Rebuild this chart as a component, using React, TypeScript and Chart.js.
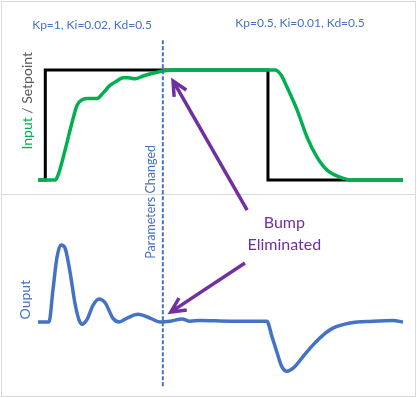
import { useEffect, useRef } from "react";
import { Chart, registerables } from "chart.js";

Chart.register(...registerables);

// ---- data (time in arbitrary units, 0..100) ----
const setpointTime = [0, 2, 2, 63, 63, 100];
const setpointValue = [0, 0, 1, 1, 0, 0];

const inputTime = [0, 4.7, 5.5, 7.4, 9.3, 10.7, 12.1, 13.7, 16.2, 17.8, 19.7, 21.6, 23.3, 24.7, 26.6, 28.8, 31.5, 34.2, 37.5, 63.6, 64.9, 66.6, 68.2, 71.0, 73.7, 76.4, 79.2, 82.7, 86.3, 100];
const inputValue = [0, 0, 0.045, 0.27, 0.52, 0.68, 0.73, 0.74, 0.74, 0.79, 0.86, 0.9, 0.93, 0.93, 0.92, 0.945, 0.97, 0.99, 1, 1, 1, 0.955, 0.845, 0.636, 0.39, 0.21, 0.09, 0.027, 0, 0];

const outputTime = [0, 3.0, 4.1, 5.2, 6.3, 7.4, 8.8, 10.1, 11.2, 12.1, 13.4, 15.1, 16.7, 18.4, 20.5, 22.2, 24.4, 27.4, 30.7, 33.4, 36.2, 39.5, 41.6, 44.4, 52.6, 62.7, 64.1, 65.5, 66.8, 68.2, 69.9, 72.6, 75.3, 78.1, 80.8, 85.5, 91.8, 97.3, 100];
const outputValue = [0, 0, 0.42, 0.84, 1.0, 0.96, 0.64, 0.25, 0.03, -0.03, 0.03, 0.22, 0.3, 0.25, 0.05, 0, 0.05, 0.1, 0.05, 0, 0.01, 0.04, 0.01, 0.02, 0.01, 0.01, -0.19, -0.4, -0.58, -0.64, -0.6, -0.45, -0.3, -0.17, -0.08, -0.013, 0.01, 0.02, 0];

const changeTime = 34.2;
const changeLabel = "Parameters Changed";

const gainLabels = ["Kp=1, Ki=0.02, Kd=0.5", "Kp=0.5, Ki=0.01, Kd=0.5"];
const gainLabelTime = [14.8, 71.8];
const gainLabelLevel = [1.41, 1.43];

const bumpLines = ["Bump", "Eliminated"];
const bumpTime = 67.5;
const bumpLevel = 1.14;

const arrowAxis = ["yIn", "yOut"];
const arrowFromTime = [57.3, 56.7];
const arrowFromLevel = [-0.273, 0.766];
const arrowToTime = [37.0, 36.4];
const arrowToLevel = [0.9, 0.13];

const inputTitle = ["Input", " / Setpoint"];
const outputTitle = "Ouput";

// ---- styles ----
const GREEN = "#00B050";
const BLUE = "#4472C4";
const PURPLE = "#7030A0";
const GRAY = "#595959";
const FRAME = "#d9d9d9";
const FONT = "Lato, 'Open Sans', sans-serif";

const toXY = (xs: number[], ys: number[]) => xs.map((x, i) => ({ x, y: ys[i] }));

const overlayPlugin = {
  id: "overlay",
  beforeDatasetsDraw(chart: any) {
    const { ctx, chartArea } = chart;
    const yIn = chart.scales.yIn;
    ctx.save();
    ctx.strokeStyle = FRAME;
    ctx.lineWidth = 1;
    ctx.strokeRect(chartArea.left + 0.5, chartArea.top + 0.5, chartArea.width - 1, chartArea.height - 1);
    const dy = Math.round(yIn.bottom) + 0.5;
    ctx.beginPath();
    ctx.moveTo(chartArea.left, dy);
    ctx.lineTo(chartArea.right, dy);
    ctx.stroke();
    ctx.restore();
  },
  afterDatasetsDraw(chart: any) {
    const { ctx } = chart;
    const x = chart.scales.x;
    const yIn = chart.scales.yIn;
    const yOut = chart.scales.yOut;
    ctx.save();

    // dashed "parameters changed" line
    const cx = x.getPixelForValue(changeTime);
    ctx.strokeStyle = BLUE;
    ctx.lineWidth = 2;
    ctx.setLineDash([4, 2]);
    ctx.beginPath();
    ctx.moveTo(cx, yIn.getPixelForValue(1.27));
    ctx.lineTo(cx, yOut.getPixelForValue(-0.857));
    ctx.stroke();
    ctx.setLineDash([]);

    // rotated label next to the line
    ctx.save();
    ctx.translate(x.getPixelForValue(31.0), yOut.getPixelForValue(1.56));
    ctx.rotate(-Math.PI / 2);
    ctx.font = `12.5px ${FONT}`;
    ctx.fillStyle = BLUE;
    ctx.textAlign = "center";
    ctx.textBaseline = "middle";
    ctx.fillText(changeLabel, 0, 0);
    ctx.restore();

    // gain labels
    ctx.font = `12px ${FONT}`;
    ctx.fillStyle = BLUE;
    ctx.textAlign = "center";
    ctx.textBaseline = "middle";
    gainLabels.forEach((t, i) => {
      ctx.fillText(t, x.getPixelForValue(gainLabelTime[i]), yIn.getPixelForValue(gainLabelLevel[i]));
    });

    // axis titles
    ctx.save();
    ctx.translate(x.getPixelForValue(-3.0), yIn.getPixelForValue(0.72));
    ctx.rotate(-Math.PI / 2);
    ctx.font = `14px ${FONT}`;
    ctx.textBaseline = "middle";
    ctx.textAlign = "left";
    const w0 = ctx.measureText(inputTitle[0]).width;
    const w1 = ctx.measureText(inputTitle[1]).width;
    let sx = -(w0 + w1) / 2;
    ctx.fillStyle = GREEN;
    ctx.fillText(inputTitle[0], sx, 0);
    sx += w0;
    ctx.fillStyle = GRAY;
    ctx.fillText(inputTitle[1], sx, 0);
    ctx.restore();

    ctx.save();
    ctx.translate(x.getPixelForValue(-3.3), yOut.getPixelForValue(0.29));
    ctx.rotate(-Math.PI / 2);
    ctx.font = `14px ${FONT}`;
    ctx.textBaseline = "middle";
    ctx.textAlign = "center";
    ctx.fillStyle = BLUE;
    ctx.fillText(outputTitle, 0, 0);
    ctx.restore();

    // arrows
    ctx.strokeStyle = PURPLE;
    ctx.lineWidth = 3.5;
    ctx.lineCap = "butt";
    ctx.lineJoin = "miter";
    arrowAxis.forEach((ax, i) => {
      const sc = chart.scales[ax];
      const x1 = x.getPixelForValue(arrowFromTime[i]);
      const y1 = sc.getPixelForValue(arrowFromLevel[i]);
      const x2 = x.getPixelForValue(arrowToTime[i]);
      const y2 = sc.getPixelForValue(arrowToLevel[i]);
      const ang = Math.atan2(y1 - y2, x1 - x2);
      const len = 16;
      const spread = (26 * Math.PI) / 180;
      ctx.beginPath();
      ctx.moveTo(x1, y1);
      ctx.lineTo(x2 + Math.cos(ang) * 2, y2 + Math.sin(ang) * 2);
      ctx.stroke();
      ctx.beginPath();
      ctx.moveTo(x2 + Math.cos(ang - spread) * len, y2 + Math.sin(ang - spread) * len);
      ctx.lineTo(x2, y2);
      ctx.lineTo(x2 + Math.cos(ang + spread) * len, y2 + Math.sin(ang + spread) * len);
      ctx.stroke();
    });

    // bump text
    ctx.font = `16px ${FONT}`;
    ctx.fillStyle = PURPLE;
    ctx.textAlign = "center";
    ctx.textBaseline = "middle";
    const bx = x.getPixelForValue(bumpTime);
    const by = yOut.getPixelForValue(bumpLevel);
    bumpLines.forEach((t, i) => {
      ctx.fillText(t, bx, by + (i - (bumpLines.length - 1) / 2) * 22);
    });

    ctx.restore();
  },
};

export default function App() {
  const ref = useRef<HTMLCanvasElement | null>(null);

  useEffect(() => {
    if (!ref.current) return;
    const chart = new Chart(ref.current, {
      type: "line",
      data: {
        datasets: [
          {
            label: "Input",
            data: toXY(inputTime, inputValue),
            yAxisID: "yIn",
            borderColor: GREEN,
            borderWidth: 3.5,
            pointRadius: 0,
            cubicInterpolationMode: "monotone",
            order: 0,
          },
          {
            label: "Setpoint",
            data: toXY(setpointTime, setpointValue),
            yAxisID: "yIn",
            borderColor: "#000000",
            borderWidth: 3,
            pointRadius: 0,
            tension: 0,
            borderJoinStyle: "miter",
            order: 1,
          },
          {
            label: "Output",
            data: toXY(outputTime, outputValue),
            yAxisID: "yOut",
            borderColor: BLUE,
            borderWidth: 3.5,
            pointRadius: 0,
            cubicInterpolationMode: "monotone",
            order: 2,
          },
        ],
      },
      options: {
        animation: false,
        responsive: false,
        devicePixelRatio: 1,
        events: [],
        layout: { padding: { left: 1, right: 1, top: 1, bottom: 1 } },
        plugins: { legend: { display: false }, tooltip: { enabled: false }, title: { display: false } },
        scales: {
          x: { type: "linear", display: false, min: -10.14, max: 103.56 },
          yOut: { type: "linear", display: false, position: "left", stack: "v", stackWeight: 203, min: -0.974, max: 1.662 },
          yIn: { type: "linear", display: false, position: "left", stack: "v", stackWeight: 193, min: -0.127, max: 1.627 },
        },
      },
      plugins: [overlayPlugin],
    });
    return () => chart.destroy();
  }, []);

  return (
    <div style={{ position: "fixed", left: 0, top: 0, width: 417, height: 398, background: "#ffffff" }}>
      <canvas ref={ref} width={417} height={398} style={{ display: "block" }} />
    </div>
  );
}
